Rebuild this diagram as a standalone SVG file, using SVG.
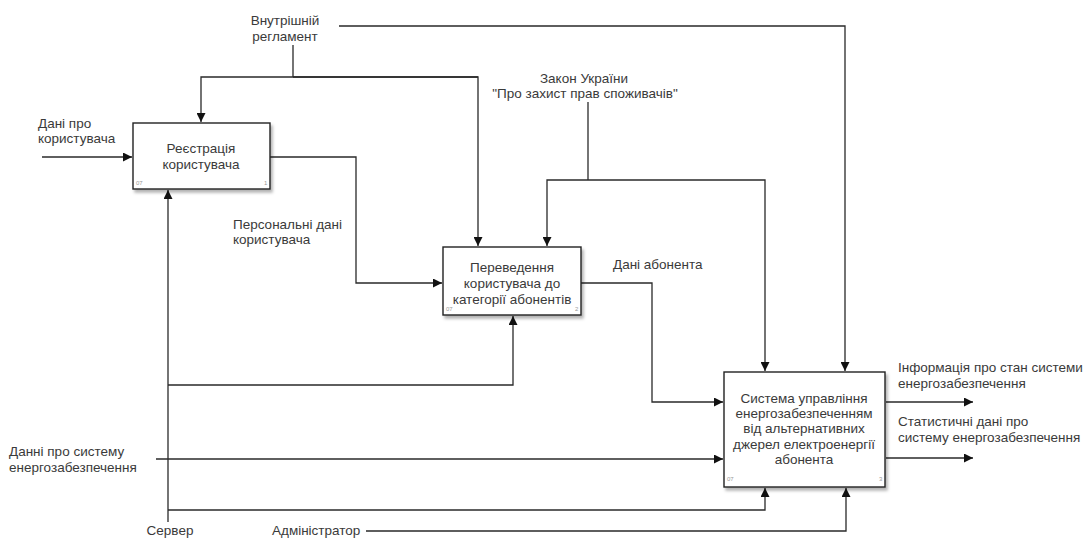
<svg xmlns="http://www.w3.org/2000/svg" width="1086" height="538" viewBox="0 0 1086 538">
  <style>
    text { font-family: "Liberation Sans", Arial, sans-serif; font-size: 13.5px; fill: #3a3a3a; }
    .c { text-anchor: middle; }
    .tiny { font-size: 6px; fill: #999; }
    .box { fill: #fff; stroke: #222; stroke-width: 1.4; }
    .ln { fill: none; stroke: #2a2a2a; stroke-width: 1.3; }
  </style>
  <defs>
    <marker id="arr" viewBox="0 0 10 10" refX="10" refY="5" markerWidth="9" markerHeight="9" markerUnits="userSpaceOnUse" orient="auto">
      <path d="M0,0 L10,5 L0,10 z" fill="#111"/>
    </marker>
    <filter id="sh" x="-10%" y="-10%" width="125%" height="130%">
      <feDropShadow dx="2" dy="3" stdDeviation="1.5" flood-color="#000" flood-opacity="0.3"/>
    </filter>
  </defs>
  <rect width="1086" height="538" fill="#fff"/>

  <!-- arrows between the activities -->
  <g id="connectors">
    <!-- controls -->
    <path class="ln" d="M293,45 V77"/>
    <path class="ln" d="M478,77 H201 V122" marker-end="url(#arr)"/>
    <path class="ln" d="M293,77 H478 V246" marker-end="url(#arr)"/>
    <path class="ln" d="M339,26 H845 V371" marker-end="url(#arr)"/>
    <path class="ln" d="M588,102 V180"/>
    <path class="ln" d="M588,180 H547 V246" marker-end="url(#arr)"/>
    <path class="ln" d="M588,180 H765 V371" marker-end="url(#arr)"/>
    <!-- inputs -->
    <path class="ln" d="M42,157 H132" marker-end="url(#arr)"/>
    <path class="ln" d="M156,459 H723" marker-end="url(#arr)"/>
    <!-- flows between blocks -->
    <path class="ln" d="M270,157 H356 V283 H442" marker-end="url(#arr)"/>
    <path class="ln" d="M581,283 H652 V402 H723" marker-end="url(#arr)"/>
    <!-- mechanisms -->
    <path class="ln" d="M168,522 V190" marker-end="url(#arr)"/>
    <path class="ln" d="M168,385 H513 V316" marker-end="url(#arr)"/>
    <path class="ln" d="M168,510 H765 V488" marker-end="url(#arr)"/>
    <path class="ln" d="M366,531 H846 V488" marker-end="url(#arr)"/>
    <!-- outputs -->
    <path class="ln" d="M886,402 H973" marker-end="url(#arr)"/>
    <path class="ln" d="M886,458 H973" marker-end="url(#arr)"/>
  </g>

  <g id="block1">
    <rect class="box" x="133" y="123" width="137" height="66" filter="url(#sh)"/>
    <text class="c" x="201" y="153">Реєстрація</text>
    <text class="c" x="201" y="169">користувача</text>
    <text class="tiny" x="136" y="185">07</text>
    <text class="tiny" x="264" y="185">1</text>
  </g>

  <g id="block2">
    <rect class="box" x="443" y="247" width="138" height="68" filter="url(#sh)"/>
    <text class="c" x="512" y="272">Переведення</text>
    <text class="c" x="512" y="288">користувача до</text>
    <text class="c" x="512" y="304">категорії абонентів</text>
    <text class="tiny" x="446" y="311">07</text>
    <text class="tiny" x="575" y="311">2</text>
  </g>

  <g id="block3">
    <rect class="box" x="724" y="372" width="161" height="115" filter="url(#sh)"/>
    <text class="c" x="804" y="403">Система управління</text>
    <text class="c" x="804" y="418">енергозабезпеченням</text>
    <text class="c" x="804" y="433">від альтернативних</text>
    <text class="c" x="804" y="449">джерел електроенергії</text>
    <text class="c" x="804" y="464">абонента</text>
    <text class="tiny" x="727" y="481">07</text>
    <text class="tiny" x="879" y="481">3</text>
  </g>

  <g id="labels">
    <text class="c" x="285" y="25">Внутрішній</text>
    <text class="c" x="285" y="41">регламент</text>
    <text class="c" x="584" y="83">Закон України</text>
    <text class="c" x="585" y="98">"Про захист прав споживачів"</text>
    <text x="38" y="128">Дані про</text>
    <text x="38" y="143">користувача</text>
    <text x="233" y="229">Персональні дані</text>
    <text x="233" y="244">користувача</text>
    <text x="613" y="269">Дані абонента</text>
    <text x="898" y="372">Інформація про стан системи</text>
    <text x="898" y="388">енергозабезпечення</text>
    <text x="898" y="426">Статистичні дані про</text>
    <text x="898" y="442">систему енергозабезпечення</text>
    <text x="9" y="456">Данні про систему</text>
    <text x="9" y="472">енергозабезпечення</text>
    <text class="c" x="170" y="535">Сервер</text>
    <text x="272" y="535">Адміністратор</text>
  </g>
</svg>
